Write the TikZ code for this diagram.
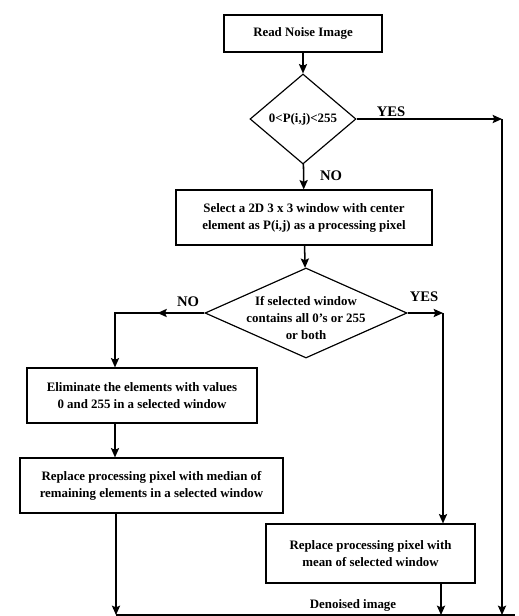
\documentclass[tikz,border=0pt]{standalone}
\usepackage{fontspec}
\setmainfont{Liberation Serif}
\usetikzlibrary{arrows.meta,shapes.geometric}

\begin{document}
\begin{tikzpicture}[
            x = 0.03cm, y = -0.03cm, % one unit = one pixel of the sketch
            > = {Stealth[length=8pt,width=7pt,inset=1.5pt]}, % arrow head style
            line width = 1.3pt, % line style
            font = \fontsize{11}{14.5}\selectfont\bfseries
        ]

        \tikzstyle{block}=[
            draw = black,
            line width = 1pt,
            fill = white,
            align = center,
            inner sep = 0pt
        ]
        \tikzstyle{decision}=[
            draw = black,
            line width = 1pt,
            diamond,
            inner sep = 0pt
        ]
        \tikzstyle{tag}=[inner sep = 1pt, font = \fontsize{12.5}{14}\selectfont\bfseries]

        \useasboundingbox (0,0) rectangle (518,616);

        \node[block, minimum width = 158*0.03cm, minimum height = 37*0.03cm] (read) at (303,33.5) {Read Noise Image};
        \node[decision, minimum width = 106*0.03cm, minimum height = 90*0.03cm] (cond1) at (303,119) {};
        \node (cond1txt) at (cond1) {0<P(i,j)<255};
        \node[block, minimum width = 256*0.03cm, minimum height = 55*0.03cm] (select) at (304,217.5)
            {Select a 2D 3 x 3 window with center\\element as P(i,j) as a processing pixel};
        \node[decision, minimum width = 202*0.03cm, minimum height = 90*0.03cm] (cond2) at (306,313) {};
        \node (cond2txt) at (306,318) [align = center] {If selected window\\contains all 0's or 255\\or both};
        \node[block, minimum width = 230*0.03cm, minimum height = 55*0.03cm] (elim) at (142,395.5)
            {Eliminate the elements with values\\0 and 255 in a selected window};
        \node[block, minimum width = 263*0.03cm, minimum height = 55*0.03cm] (median) at (151.5,485.5)
            {Replace processing pixel with median of\\remaining elements in a selected window};
        \node[block, minimum width = 209*0.03cm, minimum height = 59*0.03cm] (mean) at (370.5,553.5)
            {Replace processing pixel with\\mean of selected window};

        % labels
        \node[tag] (yes1) at (391,112) {YES};
        \node[tag] (no1) at (331,176) {NO};
        \node[tag] (no2) at (188,302) {NO};
        \node[tag] (yes2) at (424,297) {YES};
        \node (out) at (353,605) {Denoised image};

        % corners
        \coordinate (yescorner) at (502,119);
        \coordinate (nocorner) at (115,313);
        \coordinate (meancorner) at (443,313);
        \coordinate (botleft) at (116,615);
        \coordinate (botright) at (515,615);

        \draw[->] (read) -- (cond1);
        \draw[->] (cond1) -- (select);
        \draw[->] (select) -- (cond2);

        \draw[->] (cond1.east) -- (yescorner);
        \draw[->] (yescorner) -- (yescorner |- botleft);

        \draw[->] (cond2.west) -- +(-47,0);
        \draw[->] (cond2.west) -- (nocorner) -- (nocorner |- elim.north);
        \draw[->] (elim.south -| nocorner) -- (median.north -| nocorner);
        \draw[->] (median.south -| botleft) -- (botleft);

        \draw[->] (cond2.east) -- (meancorner);
        \draw[->] (meancorner) -- (meancorner |- mean.north);
        \draw[->] (mean.south -| 441,0) -- (botleft -| 441,0);

        \draw (botleft) -- (botright);

    \end{tikzpicture}
\end{document}
